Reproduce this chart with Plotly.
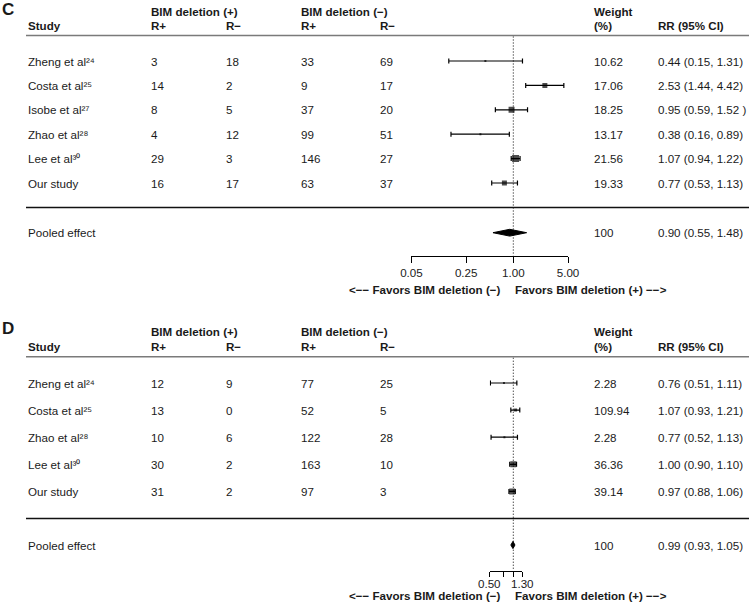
import math
import plotly.graph_objects as go

W, H = 749, 609
FONT = "Liberation Sans, Arial, sans-serif"
FS = 11.6
TXT = "#1a1a1a"

# ---------------- data: panel C ----------------
c_studies = ["Zheng et al²⁴", "Costa et al²⁵", "Isobe et al²⁷",
             "Zhao et al²⁸", "Lee et al³⁰", "Our study"]
c_pos_rpos = [3, 14, 8, 4, 29, 16]
c_pos_rneg = [18, 2, 5, 12, 3, 17]
c_neg_rpos = [33, 9, 37, 99, 146, 63]
c_neg_rneg = [69, 17, 20, 51, 27, 37]
c_weight = [10.62, 17.06, 18.25, 13.17, 21.56, 19.33]
c_rr = [0.44, 2.53, 0.95, 0.38, 1.07, 0.77]
c_lo = [0.15, 1.44, 0.59, 0.16, 0.94, 0.53]
c_hi = [1.31, 4.42, 1.52, 0.89, 1.22, 1.13]
c_rr_text = ["0.44 (0.15, 1.31)", "2.53 (1.44, 4.42)", "0.95 (0.59, 1.52 )",
             "0.38 (0.16, 0.89)", "1.07 (0.94, 1.22)", "0.77 (0.53, 1.13)"]
c_pooled = [0.90, 0.55, 1.48]
c_pooled_text = "0.90 (0.55, 1.48)"
c_ticks = [0.05, 0.25, 1.00, 5.00]
c_ticktext = ["0.05", "0.25", "1.00", "5.00"]
c_minor = []

# ---------------- data: panel D ----------------
d_studies = ["Zheng et al²⁴", "Costa et al²⁵", "Zhao et al²⁸",
             "Lee et al³⁰", "Our study"]
d_pos_rpos = [12, 13, 10, 30, 31]
d_pos_rneg = [9, 0, 6, 2, 2]
d_neg_rpos = [77, 52, 122, 163, 97]
d_neg_rneg = [25, 5, 28, 10, 3]
d_weight = [2.28, 109.94, 2.28, 36.36, 39.14]
d_rr = [0.76, 1.07, 0.77, 1.00, 0.97]
d_lo = [0.51, 0.93, 0.52, 0.90, 0.88]
d_hi = [1.11, 1.21, 1.13, 1.10, 1.06]
d_rr_text = ["0.76 (0.51, 1.11)", "1.07 (0.93, 1.21)", "0.77 (0.52, 1.13)",
             "1.00 (0.90, 1.10)", "0.97 (0.88, 1.06)"]
d_pooled = [0.99, 0.93, 1.05]
d_pooled_text = "0.99 (0.93, 1.05)"
d_ticks = [0.50, 1.30]
d_ticktext = ["0.50", "1.30"]
d_minor = [0.75, 1.00]

# ---------------- styling / layout ----------------
X_ONE = 513.3       # pixel position of RR = 1
PX_DEC = 78.3       # pixels per decade
COLS = [27, 150, 225, 300, 379, 593, 657]

c_box = [2, 5, 6, 2, 7, 5]
d_box = [2, 3, 2, 6, 6]

panels = [
    dict(letter="C", studies=c_studies, cols=[c_pos_rpos, c_pos_rneg, c_neg_rpos, c_neg_rneg],
         weight=c_weight, rr=c_rr, lo=c_lo, hi=c_hi, rrtext=c_rr_text, pooled=c_pooled,
         pooledtext=c_pooled_text, ticks=c_ticks, ticktext=c_ticktext, minor=c_minor, box=c_box,
         y_letter=9.5, y_h1=11.7, y_h2=25.0, y_hline=35.5, row0=61.0, step=24.4,
         y_pool=232.7, y_axis=255.7, y_ticklab=None, ticklen=6, y_fav=289.0, dia_h=3.4,
         xa="x", xkey="xaxis"),
    dict(letter="D", studies=d_studies, cols=[d_pos_rpos, d_pos_rneg, d_neg_rpos, d_neg_rneg],
         weight=d_weight, rr=d_rr, lo=d_lo, hi=d_hi, rrtext=d_rr_text, pooled=d_pooled,
         pooledtext=d_pooled_text, ticks=d_ticks, ticktext=d_ticktext, minor=d_minor, box=d_box,
         y_letter=328.0, y_h1=331.7, y_h2=346.0, y_hline=356.7, row0=383.0, step=27.1,
         y_pool=545.0, y_axis=570.7, y_ticklab=583.2, ticklen=5, y_fav=595.8, dia_h=3.6,
         xa="x2", xkey="xaxis2"),
]


def px_of(v):
    return X_ONE + PX_DEC * math.log10(v)


fig = go.Figure()
annotations = []
shapes = []


def txt(xp, yp, s, size=FS, anchor="left", xref="paper"):
    annotations.append(dict(x=xp / W if xref == "paper" else xp, y=yp, xref=xref, yref="y",
                            text=s, showarrow=False,
                            xanchor=anchor, yanchor="middle", borderpad=0,
                            font=dict(family=FONT, size=size, color=TXT)))


layout_axes = {}
for p in panels:
    n = len(p["studies"])
    rows = [p["row0"] + i * p["step"] for i in range(n)]
    y_sep = p["row0"] + n * p["step"]

    # header
    txt(1, p["y_letter"], "<b>%s</b>" % p["letter"], size=17)
    txt(COLS[1], p["y_h1"], "<b>BIM deletion (+)</b>")
    txt(COLS[3], p["y_h1"], "<b>BIM deletion (−)</b>")
    txt(COLS[5], p["y_h1"], "<b>Weight</b>")
    txt(COLS[0], p["y_h2"], "<b>Study</b>")
    txt(COLS[1], p["y_h2"], "<b>R+</b>")
    txt(COLS[2], p["y_h2"], "<b>R−</b>")
    txt(COLS[3], p["y_h2"], "<b>R+</b>")
    txt(COLS[4], p["y_h2"], "<b>R−</b>")
    txt(COLS[5], p["y_h2"], "<b>(%)</b>")
    txt(COLS[6], p["y_h2"], "<b>RR (95% CI)</b>")

    shapes.append(dict(type="line", xref="paper", yref="y", x0=26 / W, x1=1,
                       y0=p["y_hline"], y1=p["y_hline"], line=dict(color="#7a7a7a", width=1.5)))
    shapes.append(dict(type="line", xref="paper", yref="y", x0=26 / W, x1=1,
                       y0=y_sep, y1=y_sep, line=dict(color="#111111", width=1.5)))

    # rows
    for i in range(n):
        y = rows[i]
        txt(COLS[0], y, p["studies"][i])
        for k in range(4):
            txt(COLS[1 + k], y, str(p["cols"][k][i]))
        txt(COLS[5], y, "%.2f" % p["weight"][i])
        txt(COLS[6], y, p["rrtext"][i])

    txt(COLS[0], p["y_pool"], "Pooled effect")
    txt(COLS[5], p["y_pool"], "100")
    txt(COLS[6], p["y_pool"], p["pooledtext"])

    txt(502, p["y_fav"], "<b><−− Favors BIM deletion (−)</b>", anchor="right")
    txt(514.3, p["y_fav"], "<b>Favors BIM deletion (+) −−></b>")

    # reference dotted line at RR = 1
    fig.add_trace(go.Scatter(x=[1, 1], y=[p["y_hline"] + 1, p["y_axis"]], mode="lines",
                             xaxis=p["xa"], yaxis="y", hoverinfo="skip",
                             line=dict(color="black", width=1, dash="1px,2px")))

    # study estimates with CIs
    fig.add_trace(go.Scatter(
        x=p["rr"], y=rows, mode="markers", xaxis=p["xa"], yaxis="y",
        marker=dict(symbol="square", size=p["box"], color="black", line=dict(width=0)),
        error_x=dict(type="data", symmetric=False,
                     array=[h - r for h, r in zip(p["hi"], p["rr"])],
                     arrayminus=[r - l for r, l in zip(p["rr"], p["lo"])],
                     color="black", thickness=1.2, width=2.5)))

    # pooled diamond
    est, lo, hi = p["pooled"]
    yp = p["y_pool"]
    h = p["dia_h"]
    fig.add_trace(go.Scatter(x=[lo, est, hi, est, lo], y=[yp, yp - h, yp, yp + h, yp],
                             mode="lines", fill="toself", fillcolor="black",
                             line=dict(color="black", width=1), xaxis=p["xa"], yaxis="y",
                             hoverinfo="skip"))

    tmin = min(p["ticks"] + p["minor"])
    tmax = max(p["ticks"] + p["minor"])
    native_labels = p["y_ticklab"] is None
    ax = dict(
        type="log", domain=[px_of(tmin) / W, px_of(tmax) / W],
        range=[math.log10(tmin), math.log10(tmax)],
        anchor="free", position=1 - p["y_axis"] / H, automargin=False,
        showline=True, linecolor="black", linewidth=1,
        ticks="outside", ticklen=p["ticklen"], tickwidth=1, tickcolor="black",
        tickvals=p["ticks"], ticktext=p["ticktext"], showticklabels=native_labels,
        tickfont=dict(family=FONT, size=FS, color=TXT),
        showgrid=False, zeroline=False, fixedrange=True)
    if p["minor"]:
        ax["minor"] = dict(tickvals=p["minor"], ticks="outside", ticklen=p["ticklen"],
                           tickwidth=1, tickcolor="black", showgrid=False)
    layout_axes[p["xkey"]] = ax
    if not native_labels:
        for v, t in zip(p["ticks"], p["ticktext"]):
            # log axis annotations take log10 positions
            txt(math.log10(v), p["y_ticklab"], t, anchor="center", xref=p["xa"])

fig.update_layout(
    template="none",
    width=W, height=H, margin=dict(l=0, r=0, t=0, b=0, pad=0, autoexpand=False),
    paper_bgcolor="white", plot_bgcolor="rgba(0,0,0,0)", showlegend=False,
    yaxis=dict(range=[H, 0], domain=[0, 1], visible=False, fixedrange=True, automargin=False),
    annotations=annotations, shapes=shapes, **layout_axes)

fig.write_html("out.html", config={"displayModeBar": False},
               post_script="document.body.style.margin='0';document.body.style.padding='0';")
